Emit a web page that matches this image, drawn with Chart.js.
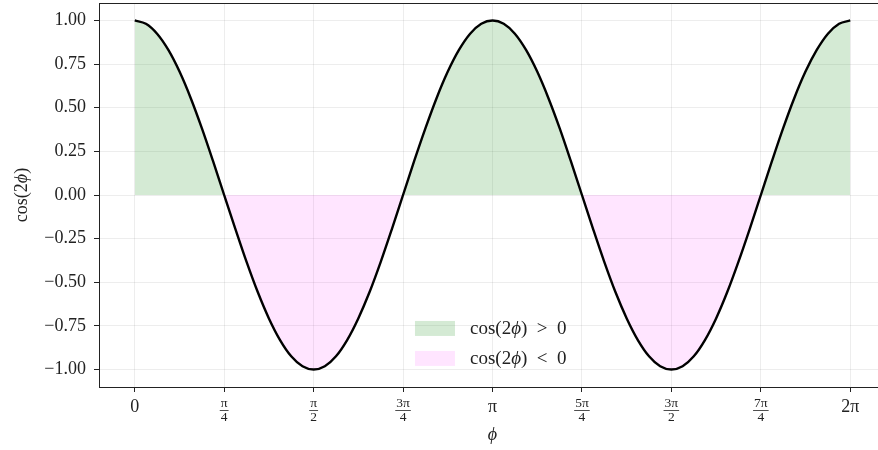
<!DOCTYPE html>
<html>
<head>
<meta charset="utf-8">
<script src="https://cdn.jsdelivr.net/npm/chart.js@4/dist/chart.umd.min.js"></script>
<style>
  html, body { margin: 0; padding: 0; background: #fff; overflow: hidden; }
  #wrap { width: 878px; height: 450px; overflow: hidden; }
</style>
</head>
<body>
<div id="wrap"><canvas id="chart" width="890" height="450"></canvas></div>
<script>
// samples of the curve, phi in steps of pi/32
const phi = [
  0.000, 0.098, 0.196, 0.295, 0.393, 0.491, 0.589, 0.687,
  0.785, 0.884, 0.982, 1.080, 1.178, 1.276, 1.374, 1.473,
  1.571, 1.669, 1.767, 1.865, 1.963, 2.062, 2.160, 2.258,
  2.356, 2.454, 2.553, 2.651, 2.749, 2.847, 2.945, 3.043,
  3.142, 3.240, 3.338, 3.436, 3.534, 3.632, 3.731, 3.829,
  3.927, 4.025, 4.123, 4.221, 4.320, 4.418, 4.516, 4.614,
  4.712, 4.811, 4.909, 5.007, 5.105, 5.203, 5.301, 5.400,
  5.498, 5.596, 5.694, 5.792, 5.890, 5.989, 6.087, 6.185, 6.283
];
const cos2phi = [
  1.000, 0.981, 0.924, 0.831, 0.707, 0.556, 0.383, 0.195,
  0.000, -0.195, -0.383, -0.556, -0.707, -0.831, -0.924, -0.981,
  -1.000, -0.981, -0.924, -0.831, -0.707, -0.556, -0.383, -0.195,
  0.000, 0.195, 0.383, 0.556, 0.707, 0.831, 0.924, 0.981,
  1.000, 0.981, 0.924, 0.831, 0.707, 0.556, 0.383, 0.195,
  0.000, -0.195, -0.383, -0.556, -0.707, -0.831, -0.924, -0.981,
  -1.000, -0.981, -0.924, -0.831, -0.707, -0.556, -0.383, -0.195,
  0.000, 0.195, 0.383, 0.556, 0.707, 0.831, 0.924, 0.981, 1.000
];

const xTicks = [0, 0.785, 1.571, 2.356, 3.142, 3.927, 4.712, 5.498, 6.283];
const xTickLabels = ['0', ['π', '4'], ['π', '2'], ['3π', '4'], 'π', ['5π', '4'], ['3π', '2'], ['7π', '4'], '2π'];
const yTicks = [-1, -0.75, -0.5, -0.25, 0, 0.25, 0.5, 0.75, 1];
const yTickLabels = ['−1.00', '−0.75', '−0.50', '−0.25', '0.00', '0.25', '0.50', '0.75', '1.00'];
const legendLabels = ['cos(2ϕ) > 0', 'cos(2ϕ) < 0'];
const xTitle = 'ϕ';
const yTitle = 'cos(2ϕ)';

const serif = '"Liberation Serif", "DejaVu Serif", serif';
const axisColor = '#222';
const gridColor = 'rgba(0,0,0,0.07)';
const posFill = 'rgba(0,128,0,0.17)';
const negFill = 'rgba(255,0,255,0.10)';

// draws text with every phi in italic and wider spaces, returns width
function drawRich(ctx, text, x, y, size, measureOnly) {
  let cx = x;
  for (const t of text.replace(/ /g, '\u2002').split(/(ϕ)/).filter(Boolean)) {
    ctx.font = (t === 'ϕ' ? 'italic ' : '') + size + 'px ' + serif;
    if (!measureOnly) ctx.fillText(t, cx, y);
    cx += ctx.measureText(t).width;
  }
  return cx - x;
}

const extras = {
  id: 'extras',
  afterDraw(chart) {
    const { ctx, chartArea: a } = chart;
    const xs = chart.scales.x;
    ctx.save();

    // frame around the plot
    ctx.strokeStyle = axisColor;
    ctx.lineWidth = 1;
    ctx.strokeRect(a.left + 0.5, a.top + 0.5, a.right - a.left - 1, a.bottom - a.top);

    // bars of the fraction tick labels
    ctx.lineWidth = 0.8;
    for (const item of xs.getLabelItems()) {
      if (!Array.isArray(item.label)) continue;
      const [x, y] = item.options.translation;
      ctx.font = item.font.string;
      const w = Math.max(...item.label.map(s => ctx.measureText(s).width)) + 2;
      const by = Math.round(y + item.textOffset + item.font.lineHeight / 2) + 0.5;
      ctx.beginPath();
      ctx.moveTo(x - w / 2, by);
      ctx.lineTo(x + w / 2, by);
      ctx.stroke();
    }

    // y axis title
    ctx.fillStyle = axisColor;
    ctx.textBaseline = 'middle';
    ctx.textAlign = 'left';
    ctx.translate(22, (a.top + a.bottom) / 2);
    ctx.rotate(-Math.PI / 2);
    const tw = drawRich(ctx, yTitle, 0, 0, 18, true);
    drawRich(ctx, yTitle, -tw / 2, 0, 18);
    ctx.setTransform(1, 0, 0, 1, 0, 0);

    // legend inside the plot
    const lx = a.left + 0.4015 * (a.right - a.left);
    const ly = a.top + 0.828 * (a.bottom - a.top);
    const colors = [posFill, negFill];
    legendLabels.forEach((label, i) => {
      const ry = ly + i * 30;
      ctx.fillStyle = colors[i];
      ctx.fillRect(lx, ry, 40, 15);
      ctx.fillStyle = axisColor;
      drawRich(ctx, label, lx + 55, ry + 8.5, 19);
    });
    ctx.restore();
  }
};

new Chart(document.getElementById('chart'), {
  type: 'line',
  data: {
    datasets: [{
      data: phi.map((p, i) => ({ x: p, y: cos2phi[i] })),
      borderColor: '#000',
      borderWidth: 2.4,
      pointRadius: 0,
      cubicInterpolationMode: 'monotone',
      fill: { target: 'origin', above: posFill, below: negFill }
    }]
  },
  options: {
    responsive: false,
    animation: false,
    devicePixelRatio: 1,
    layout: { padding: { top: 3, right: 4, left: 0, bottom: 0 } },
    plugins: { legend: { display: false }, tooltip: { enabled: false } },
    scales: {
      x: {
        type: 'linear',
        min: -0.314,
        max: 6.597,
        afterBuildTicks: s => { s.ticks = xTicks.map(v => ({ value: v })); },
        afterFit: s => { s.height = 63; s.paddingLeft = 0; s.paddingRight = 0; },
        grid: { color: gridColor, tickColor: axisColor, tickLength: 5 },
        border: { display: true, color: axisColor, width: 1 },
        ticks: {
          autoSkip: false,
          maxRotation: 0,
          padding: 4,
          color: axisColor,
          callback: (v, i) => xTickLabels[i],
          font: ctx => Array.isArray(xTickLabels[ctx.index])
            ? { family: serif, size: 13.5, lineHeight: '14px' }
            : { family: serif, size: 18 }
        },
        title: {
          display: true,
          text: xTitle,
          color: axisColor,
          font: { family: serif, size: 18, style: 'italic' },
          padding: { top: 0, bottom: 4 }
        }
      },
      y: {
        min: -1.1,
        max: 1.1,
        afterBuildTicks: s => { s.ticks = yTicks.map(v => ({ value: v })); },
        afterFit: s => { s.width = 99; s.paddingTop = 0; s.paddingBottom = 0; },
        grid: { color: gridColor, tickColor: axisColor, tickLength: 5 },
        border: { display: true, color: axisColor, width: 1 },
        ticks: {
          padding: 8,
          color: axisColor,
          callback: (v, i) => yTickLabels[i],
          font: { family: serif, size: 18 }
        }
      }
    }
  },
  plugins: [extras]
});
</script>
</body>
</html>
